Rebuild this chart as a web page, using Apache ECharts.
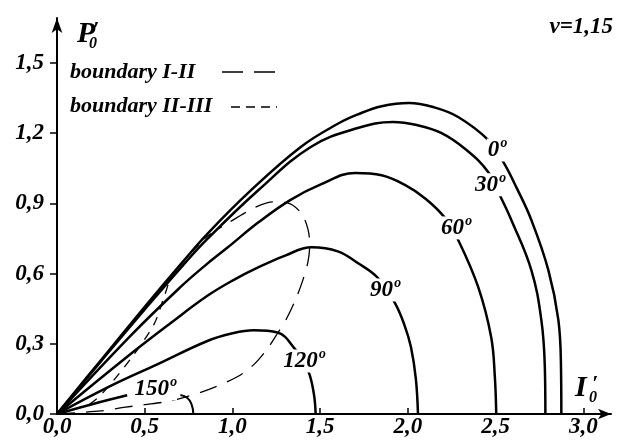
<!DOCTYPE html>
<html>
<head>
<meta charset="utf-8">
<script src="https://cdn.jsdelivr.net/npm/echarts@6/dist/echarts.min.js"></script>
<style>
  html, body { margin: 0; padding: 0; background: #fff; }
  #chart { width: 618px; height: 444px; }
</style>
</head>
<body>
<div id="chart"></div>
<script>
// Tick values for both axes
const xTicks = [0, 0.5, 1.0, 1.5, 2.0, 2.5, 3.0];
const yTicks = [0, 0.3, 0.6, 0.9, 1.2, 1.5];

// Power characteristics P'0(I'0) for different control angles, v = 1,15
const angleLabels = ['0º', '30º', '60º', '90º', '120º', '150º'];
const curve0 = [[0,0],[0.25,0.23],[0.5,0.458],[0.714,0.648],[0.857,0.77],[1.1,0.952],[1.389,1.141],[1.6,1.24],[1.714,1.28],[1.85,1.315],[2.006,1.329],[2.15,1.31],[2.286,1.269],[2.457,1.171],[2.543,1.077],[2.62,0.965],[2.703,0.829],[2.8,0.615],[2.857,0.402],[2.872,0.2],[2.874,0]];
const curve30 = [[0,0],[0.25,0.225],[0.5,0.447],[0.714,0.632],[0.857,0.748],[1.15,0.958],[1.446,1.141],[1.714,1.222],[1.914,1.248],[2.05,1.235],[2.189,1.201],[2.33,1.13],[2.457,1.034],[2.531,0.923],[2.589,0.829],[2.703,0.615],[2.76,0.402],[2.78,0.2],[2.783,0]];
const curve60 = [[0,0],[0.42,0.335],[0.7,0.54],[0.84,0.632],[0.97,0.71],[1.15,0.82],[1.331,0.915],[1.5,0.98],[1.7,1.03],[1.85,1.02],[1.98,0.98],[2.1,0.92],[2.211,0.838],[2.286,0.744],[2.4,0.543],[2.474,0.329],[2.495,0.16],[2.503,0]];
const curve90 = [[0,0],[0.4,0.245],[0.65,0.39],[0.857,0.505],[1.0,0.57],[1.143,0.625],[1.3,0.677],[1.45,0.712],[1.6,0.695],[1.714,0.645],[1.829,0.581],[1.926,0.474],[1.98,0.38],[2.017,0.286],[2.045,0.15],[2.057,0]];
const curve120 = [[0,0],[0.3,0.118],[0.571,0.212],[0.857,0.312],[1.0,0.345],[1.12,0.358],[1.257,0.348],[1.36,0.274],[1.407,0.22],[1.44,0.167],[1.465,0.08],[1.474,0]];
const curve150 = [[0,0],[0.2,0.042],[0.4,0.08]];

// Operating-mode boundaries
const boundary12 = [[0,0],[0.25,0.013],[0.38,0.028],[0.5,0.04],[0.61,0.051],[0.72,0.07],[0.874,0.107],[1.03,0.16],[1.12,0.21],[1.2,0.28],[1.257,0.345],[1.31,0.41],[1.36,0.49],[1.4,0.57],[1.43,0.65],[1.44,0.72],[1.43,0.79],[1.39,0.86],[1.31,0.903],[1.23,0.906],[1.12,0.88],[1.05,0.85],[0.94,0.8]];
const boundary23 = [[0,0],[0.19,0.045],[0.29,0.115],[0.44,0.256],[0.554,0.385],[0.61,0.5],[0.66,0.6],[0.75,0.675],[0.85,0.755],[0.94,0.8]];

// Angle mark near the 150º characteristic
const angleArc = [[0.703,0.081],[0.743,0.068],[0.766,0.043],[0.777,0]];

const FONT = "'Liberation Serif', 'Times New Roman', serif";
const labelFont = {
  fontFamily: FONT, fontWeight: 'bold', fontStyle: 'italic', fontSize: 23, color: '#000'
};

function fmt(v) { return v.toFixed(1).replace('.', ','); }

function solid(name, data, labelText, at) {
  return {
    name: name, type: 'line', data: data, smooth: 0.4, symbol: 'none', z: 3,
    lineStyle: { color: '#000', width: 2.5 },
    markPoint: {
      symbol: 'rect', symbolSize: 0, silent: true,
      label: Object.assign({ show: true, position: 'inside', formatter: labelText,
        backgroundColor: '#fff', padding: [0, 1] }, labelFont),
      data: [{ coord: at }]
    }
  };
}

const chart = echarts.init(document.getElementById('chart'), null, { renderer: 'canvas' });

chart.setOption({
  animation: false,
  backgroundColor: '#fff',
  grid: { left: 57, right: 7, top: 18, bottom: 30, containLabel: false },
  xAxis: {
    type: 'value', min: 0, max: 3.157,
    splitLine: { show: false },
    axisLine: { show: true, lineStyle: { color: '#000', width: 2 }, symbol: ['none', 'arrow'], symbolSize: [8, 13] },
    axisTick: { show: true, inside: true, length: 6, lineStyle: { color: '#000', width: 1.5 }, customValues: xTicks },
    axisLabel: Object.assign({ margin: 2, customValues: xTicks, formatter: fmt }, labelFont)
  },
  yAxis: {
    type: 'value', min: 0, max: 1.692,
    splitLine: { show: false },
    axisLine: { show: true, lineStyle: { color: '#000', width: 2 }, symbol: ['none', 'arrow'], symbolSize: [8, 15] },
    axisTick: { show: true, inside: false, length: 7, lineStyle: { color: '#000', width: 1.5 }, customValues: yTicks },
    axisLabel: Object.assign({ margin: 13, customValues: yTicks, formatter: fmt }, labelFont)
  },
  series: [
    {
      name: 'boundary I-II', type: 'line', data: boundary12, smooth: 0.3, symbol: 'none', z: 2,
      lineStyle: { color: '#000', width: 1.3, type: [18, 11] }
    },
    {
      name: 'boundary II-III', type: 'line', data: boundary23, smooth: 0.3, symbol: 'none', z: 2,
      lineStyle: { color: '#000', width: 1.3, type: [9, 8] }
    },
    solid('0', curve0, angleLabels[0], [2.507, 1.128]),
    solid('30', curve30, angleLabels[1], [2.467, 0.979]),
    solid('60', curve60, angleLabels[2], [2.274, 0.795]),
    solid('90', curve90, angleLabels[3], [1.869, 0.53]),
    solid('120', curve120, angleLabels[4], [1.407, 0.226]),
    solid('150', curve150, angleLabels[5], [0.56, 0.107]),
    {
      name: 'angle', type: 'line', data: angleArc, smooth: 0.5, symbol: 'none', z: 3,
      lineStyle: { color: '#000', width: 2 }
    }
  ],
  graphic: [
    // axis names
    { type: 'text', left: 77, top: 19, style: { text: 'P', font: "italic bold 30px " + FONT, fill: '#000' } },
    { type: 'text', left: 93, top: 19, style: { text: '′', font: "italic bold 22px " + FONT, fill: '#000' } },
    { type: 'text', left: 89, top: 36, style: { text: '0', font: "italic bold 16px " + FONT, fill: '#000' } },
    { type: 'text', left: 575, top: 373, style: { text: 'I', font: "italic bold 30px " + FONT, fill: '#000' } },
    { type: 'text', left: 592, top: 373, style: { text: '′', font: "italic bold 22px " + FONT, fill: '#000' } },
    { type: 'text', left: 589, top: 390, style: { text: '0', font: "italic bold 16px " + FONT, fill: '#000' } },
    // parameter
    { type: 'text', right: 5, top: 16, style: { text: 'ν=1,15', font: "italic bold 23px " + FONT, fill: '#000' } },
    // legend
    { type: 'text', left: 70, top: 61, style: { text: 'boundary I-II', font: "italic bold 22px " + FONT, fill: '#000' } },
    { type: 'text', left: 70, top: 95, style: { text: 'boundary II-III', font: "italic bold 22px " + FONT, fill: '#000' } },
    { type: 'line', shape: { x1: 222, y1: 72, x2: 277, y2: 72 }, style: { stroke: '#000', lineWidth: 1.3, lineDash: [21, 11] } },
    { type: 'line', shape: { x1: 231, y1: 107, x2: 277, y2: 107 }, style: { stroke: '#000', lineWidth: 1.3, lineDash: [9, 6] } }
  ]
});
</script>
</body>
</html>
